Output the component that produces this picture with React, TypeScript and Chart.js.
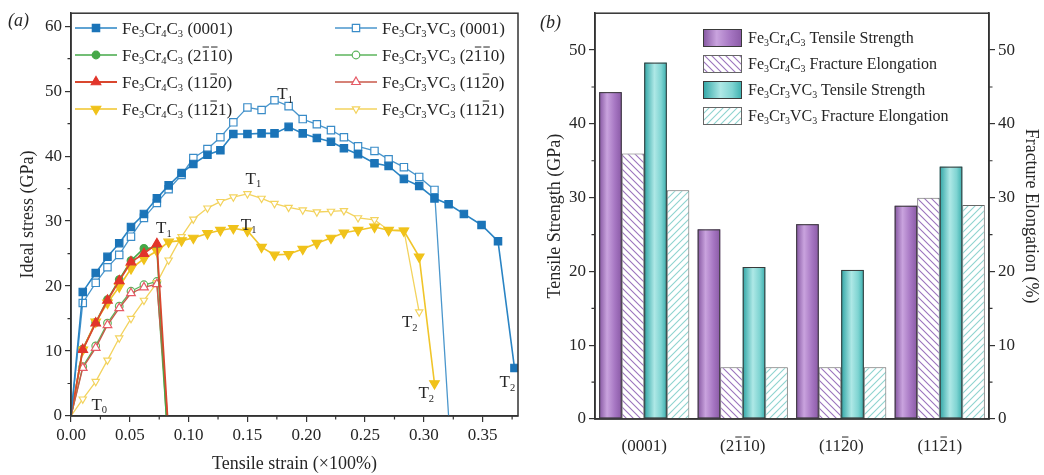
import React, { useEffect, useRef } from 'react';
import { Chart, registerables } from 'chart.js';

Chart.register(...registerables);

const FAMILY = '"Liberation Serif", "Times New Roman", Times, serif';
const INK = '#262626';
const AXIS = '#333333';

// ---------------- Panel (a): ideal stress vs tensile strain ----------------
const STRAIN = [0, 0.010, 0.021, 0.031, 0.041, 0.051, 0.062, 0.073, 0.083, 0.094, 0.104, 0.116, 0.127, 0.138, 0.150, 0.162, 0.173, 0.185, 0.197, 0.209, 0.221, 0.232, 0.244, 0.258, 0.270, 0.283, 0.296, 0.309, 0.321, 0.334, 0.349, 0.363, 0.377];

const CR_0001 = [0, 19.1, 22.0, 24.5, 26.6, 29.1, 31.1, 33.5, 35.5, 37.4, 38.8, 40.2, 40.9, 43.4, 43.4, 43.5, 43.5, 44.5, 43.5, 42.8, 42.2, 41.2, 40.3, 38.9, 38.5, 36.5, 35.4, 33.5, 32.6, 31.1, 29.4, 26.9, 7.4];
const VC_0001 = [0, 17.4, 20.5, 22.9, 24.8, 27.6, 30.5, 32.8, 34.9, 37.1, 39.7, 41.1, 42.9, 45.2, 47.5, 47.1, 48.6, 47.7, 45.7, 44.9, 44.0, 42.9, 41.5, 40.8, 39.5, 38.3, 36.8, 34.8, 0];
const CR_2110 = [0, 10.3, 14.4, 17.9, 21.0, 23.9, 25.8, 25.9];
const CR_2110_END = [0.081, 0];
const CR_1120 = [0, 10.2, 14.3, 17.8, 20.8, 23.7, 25.0, 26.5];
const CR_1120_END = [0.082, 0];
const CR_1121 = [0, 10.2, 14.5, 17.4, 19.9, 22.7, 24.2, 25.4, 26.8, 27.0, 27.4, 28.1, 28.6, 28.9, 28.5, 26.0, 24.8, 24.9, 25.7, 26.6, 27.4, 28.2, 28.6, 29.1, 28.6, 28.5, 24.5, 5.0];
const VC_2110 = [0, 7.6, 10.8, 14.3, 16.9, 19.2, 20.2, 20.7];
const VC_2110_END = [0.081, 0];
const VC_1120 = [0, 7.4, 10.5, 14.0, 16.6, 18.9, 19.8, 20.3];
const VC_1120_END = [0.082, 0];
const VC_1121 = [0, 2.6, 5.3, 8.6, 12.0, 15.0, 17.8, 20.5, 24.0, 27.6, 30.3, 32.0, 33.0, 33.7, 34.2, 33.5, 32.7, 32.1, 31.7, 31.4, 31.5, 31.6, 30.5, 30.2, 28.6, 28.6, 16.0];

// T markers: [subscript, strain, stress]
const T_MARKS: [string, number, number][] = [
  ['0', 0.024, 1.8],
  ['1', 0.079, 29.0],
  ['1', 0.182, 49.6],
  ['1', 0.155, 36.6],
  ['1', 0.151, 29.5],
  ['2', 0.288, 14.5],
  ['2', 0.302, 3.6],
  ['2', 0.371, 5.3],
];

// ---------------- Panel (b): tensile strength / fracture elongation ----------------
const PLANES = ['(0001)', '(2~1~10)', '(11~20)', '(11~21)'];
const CR_TS = [44.3, 25.7, 26.4, 28.9];
const CR_FE = [36, 7, 7, 30];
const VC_TS = [48.3, 20.6, 20.2, 34.2];
const VC_FE = [31, 7, 7, 29];

// ---------------- rich text helpers ----------------
type Seg = { t: string; kind: 'n' | 'sub' | 'bar' };
function segs(s: string): Seg[] {
  const out: Seg[] = [];
  let buf = '';
  for (let i = 0; i < s.length; i++) {
    const c = s[i];
    if ((c === '_' || c === '~') && i + 1 < s.length) {
      if (buf) { out.push({ t: buf, kind: 'n' }); buf = ''; }
      out.push({ t: s[i + 1], kind: c === '_' ? 'sub' : 'bar' });
      i++;
    } else buf += c;
  }
  if (buf) out.push({ t: buf, kind: 'n' });
  return out;
}
function fontStr(size: number, italic = false) {
  return `${italic ? 'italic ' : ''}${size}px ${FAMILY}`;
}
function richWidth(ctx: CanvasRenderingContext2D, s: string, size: number, italic = false) {
  let w = 0;
  for (const g of segs(s)) {
    ctx.font = fontStr(g.kind === 'sub' ? size * 0.62 : size, italic);
    w += ctx.measureText(g.t).width;
  }
  return w;
}
function drawRich(ctx: CanvasRenderingContext2D, s: string, x: number, yc: number, size: number, align: 'left' | 'center' | 'right' = 'left', color = INK, italic = false) {
  const w = richWidth(ctx, s, size, italic);
  let cx = align === 'left' ? x : align === 'center' ? x - w / 2 : x - w;
  const base = yc + size * 0.33;
  ctx.fillStyle = color;
  ctx.strokeStyle = color;
  ctx.textAlign = 'left';
  ctx.textBaseline = 'alphabetic';
  for (const g of segs(s)) {
    const fs = g.kind === 'sub' ? size * 0.62 : size;
    ctx.font = fontStr(fs, italic);
    const gw = ctx.measureText(g.t).width;
    const by = g.kind === 'sub' ? base + size * 0.2 : base;
    ctx.fillText(g.t, cx, by);
    if (g.kind === 'bar') {
      ctx.lineWidth = Math.max(1, size * 0.06);
      ctx.beginPath();
      const ly = base - size * 0.8;
      ctx.moveTo(cx + gw * 0.12, ly);
      ctx.lineTo(cx + gw * 0.88, ly);
      ctx.stroke();
    }
    cx += gw;
  }
}
function drawMarker(ctx: CanvasRenderingContext2D, shape: string, x: number, y: number, r: number, fill: string, stroke: string) {
  ctx.beginPath();
  if (shape === 'rect') {
    const h = r * Math.SQRT1_2;
    ctx.rect(x - h, y - h, 2 * h, 2 * h);
  } else if (shape === 'circle') {
    ctx.arc(x, y, r, 0, Math.PI * 2);
  } else {
    const rot = shape === 'triDown' ? Math.PI : 0;
    for (let k = 0; k < 3; k++) {
      const a = rot + (k * 2 * Math.PI) / 3;
      const px = x + Math.sin(a) * r;
      const py = y - Math.cos(a) * r;
      if (k) ctx.lineTo(px, py); else ctx.moveTo(px, py);
    }
    ctx.closePath();
  }
  ctx.fillStyle = fill;
  ctx.fill();
  ctx.lineWidth = 1.2;
  ctx.strokeStyle = stroke;
  ctx.stroke();
}

// ---------------- series styling ----------------
type SeriesA = { label: string; values: number[]; end: number[] | null; color: string; line: string; shape: string; r: number; open: boolean; lw: number };
const S_CR_0001: SeriesA = { label: 'Fe_3Cr_4C_3 (0001)', values: CR_0001, end: null, color: '#1b74b8', line: '#2a84c4', shape: 'rect', r: 5.2, open: false, lw: 1.6 };
const S_CR_2110: SeriesA = { label: 'Fe_3Cr_4C_3 (2~1~10)', values: CR_2110, end: CR_2110_END, color: '#45a848', line: '#45a848', shape: 'circle', r: 3.8, open: false, lw: 1.6 };
const S_CR_1120: SeriesA = { label: 'Fe_3Cr_4C_3 (11~20)', values: CR_1120, end: CR_1120_END, color: '#e2352b', line: '#d9472e', shape: 'triangle', r: 5.5, open: false, lw: 1.8 };
const S_CR_1121: SeriesA = { label: 'Fe_3Cr_4C_3 (11~21)', values: CR_1121, end: null, color: '#f0c21a', line: '#f0c52a', shape: 'triDown', r: 5.5, open: false, lw: 1.6 };
const S_VC_0001: SeriesA = { label: 'Fe_3Cr_3VC_3 (0001)', values: VC_0001, end: null, color: '#3a8cc8', line: '#4a96cc', shape: 'rect', r: 5.2, open: true, lw: 1.3 };
const S_VC_2110: SeriesA = { label: 'Fe_3Cr_3VC_3 (2~1~10)', values: VC_2110, end: VC_2110_END, color: '#5cb45c', line: '#5cb45c', shape: 'circle', r: 3.8, open: true, lw: 1.3 };
const S_VC_1120: SeriesA = { label: 'Fe_3Cr_3VC_3 (11~20)', values: VC_1120, end: VC_1120_END, color: '#e65a66', line: '#c8584a', shape: 'triangle', r: 5.0, open: true, lw: 1.4 };
const S_VC_1121: SeriesA = { label: 'Fe_3Cr_3VC_3 (11~21)', values: VC_1121, end: null, color: '#f3d35e', line: '#f3d35e', shape: 'triDown', r: 4.2, open: true, lw: 1.3 };

const DRAW_ORDER = [S_CR_0001, S_CR_1120, S_CR_1121, S_CR_2110, S_VC_0001, S_VC_1120, S_VC_1121, S_VC_2110];
const LEGEND_COL1 = [S_CR_0001, S_CR_2110, S_CR_1120, S_CR_1121];
const LEGEND_COL2 = [S_VC_0001, S_VC_2110, S_VC_1120, S_VC_1121];

function pts(values: number[], end: number[] | null) {
  const p = values.map((y, i) => ({ x: STRAIN[i], y }));
  if (end) p.push({ x: end[0], y: end[1] });
  return p;
}

const tickFont = { family: FAMILY, size: 17 };

const panelA = {
  id: 'panelA',
  afterDraw(chart: any) {
    const { ctx, chartArea: ca, scales } = chart;
    const xs = scales.x;
    const ys = scales.y;
    ctx.save();
    // frame
    ctx.strokeStyle = AXIS;
    ctx.lineWidth = 1.5;
    ctx.strokeRect(ca.left, ca.top, ca.right - ca.left, ca.bottom - ca.top);
    // minor ticks
    ctx.lineWidth = 1.2;
    ctx.beginPath();
    for (let v = 0.025; v < 0.38; v += 0.05) {
      const px = xs.getPixelForValue(v);
      ctx.moveTo(px, ca.bottom);
      ctx.lineTo(px, ca.bottom + 3.5);
    }
    for (let v = 5; v < 62; v += 10) {
      const py = ys.getPixelForValue(v);
      ctx.moveTo(ca.left, py);
      ctx.lineTo(ca.left - 3.5, py);
    }
    ctx.stroke();
    // legend
    const rows = [28, 55, 82, 109];
    const cols: [SeriesA[], number][] = [[LEGEND_COL1, ca.left + 4], [LEGEND_COL2, ca.left + 264]];
    cols.forEach(([list, x0]) => {
      list.forEach((s, i) => {
        const y = rows[i];
        ctx.strokeStyle = s.line;
        ctx.lineWidth = s.lw;
        ctx.beginPath();
        ctx.moveTo(x0, y);
        ctx.lineTo(x0 + 42, y);
        ctx.stroke();
        drawMarker(ctx, s.shape, x0 + 21, y, s.r, s.open ? '#ffffff' : s.color, s.color);
        drawRich(ctx, s.label, x0 + 47, y, 17, 'left');
      });
    });
    // T labels
    T_MARKS.forEach(([n, sx, sy]) => {
      drawRich(ctx, 'T_' + n, xs.getPixelForValue(sx), ys.getPixelForValue(sy), 17, 'center');
    });
    // axis titles
    drawRich(ctx, 'Tensile strain (\u00d7100%)', (ca.left + ca.right) / 2, 463, 18, 'center');
    ctx.save();
    ctx.translate(27, (ca.top + ca.bottom) / 2);
    ctx.rotate(-Math.PI / 2);
    drawRich(ctx, 'Ideal stress (GPa)', 0, 0, 18, 'center');
    ctx.restore();
    drawRich(ctx, '(a)', 8, 20, 18, 'left', INK, true);
    ctx.restore();
  },
};

const PURPLE_STOPS: [number, string][] = [[0, '#8455a0'], [0.35, '#c9a3de'], [0.7, '#a676c2'], [1, '#8a5aa6']];
const TEAL_STOPS: [number, string][] = [[0, '#2fa5a5'], [0.45, '#aee8e6'], [0.75, '#7fd4d2'], [1, '#3aafae']];

function grad(ctx: CanvasRenderingContext2D, l: number, w: number, stops: [number, string][]) {
  const g = ctx.createLinearGradient(l, 0, l + w, 0);
  stops.forEach(([o, c]) => g.addColorStop(o, c));
  return g;
}

function hatch(ctx: CanvasRenderingContext2D, color: string, dir: 'back' | 'fwd') {
  const size = 7;
  const c = document.createElement('canvas');
  c.width = size;
  c.height = size;
  const g = c.getContext('2d')!;
  g.fillStyle = '#ffffff';
  g.fillRect(0, 0, size, size);
  g.strokeStyle = color;
  g.lineWidth = 1.1;
  g.beginPath();
  if (dir === 'back') {
    g.moveTo(-1, -1); g.lineTo(size + 1, size + 1);
    g.moveTo(-1, size - 1); g.lineTo(1, size + 1);
    g.moveTo(size - 1, -1); g.lineTo(size + 1, 1);
  } else {
    g.moveTo(-1, size + 1); g.lineTo(size + 1, -1);
    g.moveTo(-1, 1); g.lineTo(1, -1);
    g.moveTo(size - 1, size + 1); g.lineTo(size + 1, size - 1);
  }
  g.stroke();
  return ctx.createPattern(c, 'repeat')!;
}

const LEGEND_B = ['Fe_3Cr_4C_3 Tensile Strength', 'Fe_3Cr_4C_3 Fracture Elongation', 'Fe_3Cr_3VC_3 Tensile Strength', 'Fe_3Cr_3VC_3 Fracture Elongation'];

function makePanelB(patterns: any[]) {
  return {
    id: 'panelB',
    afterDatasetsDraw(chart: any) {
      const ctx = chart.ctx;
      ctx.save();
      [0, 2].forEach((di) => {
        const meta = chart.getDatasetMeta(di);
        const stops = di === 0 ? PURPLE_STOPS : TEAL_STOPS;
        meta.data.forEach((el: any) => {
          const p = el.getProps(['x', 'y', 'base', 'width'], true);
          const l = p.x - p.width / 2;
          ctx.fillStyle = grad(ctx, l, p.width, stops);
          ctx.fillRect(l, p.y, p.width, p.base - p.y);
          ctx.strokeStyle = '#3a3a3a';
          ctx.lineWidth = 1;
          ctx.strokeRect(l + 0.5, p.y + 0.5, p.width - 1, p.base - p.y - 1);
        });
      });
      ctx.restore();
    },
    afterDraw(chart: any) {
      const { ctx, chartArea: ca, scales } = chart;
      const ys = scales.y;
      const xs = scales.x;
      ctx.save();
      ctx.strokeStyle = AXIS;
      ctx.lineWidth = 1.5;
      ctx.strokeRect(ca.left, ca.top, ca.right - ca.left, ca.bottom - ca.top);
      ctx.lineWidth = 1.2;
      ctx.beginPath();
      for (let v = 5; v < 55; v += 10) {
        const py = ys.getPixelForValue(v);
        ctx.moveTo(ca.left, py); ctx.lineTo(ca.left - 3.5, py);
        ctx.moveTo(ca.right, py); ctx.lineTo(ca.right + 3.5, py);
      }
      ctx.stroke();
      // legend
      const x0 = ca.left + 108;
      const rowsTop = [29, 55, 81, 107];
      LEGEND_B.forEach((label, i) => {
        const top = rowsTop[i];
        const w = 39;
        const h = 18;
        if (i === 0 || i === 2) ctx.fillStyle = grad(ctx, x0, w, i === 0 ? PURPLE_STOPS : TEAL_STOPS);
        else ctx.fillStyle = patterns[i === 1 ? 0 : 1];
        ctx.fillRect(x0, top, w, h);
        ctx.strokeStyle = i === 0 || i === 2 ? '#3a3a3a' : '#666666';
        ctx.lineWidth = 1;
        ctx.strokeRect(x0 + 0.5, top + 0.5, w - 1, h - 1);
        drawRich(ctx, label, x0 + 45, top + h / 2, 16, 'left');
      });
      // category labels
      PLANES.forEach((p, i) => {
        drawRich(ctx, p, xs.getPixelForValue(i), 445, 17, 'center');
      });
      // axis titles
      ctx.save();
      ctx.translate(24, (ca.top + ca.bottom) / 2);
      ctx.rotate(-Math.PI / 2);
      drawRich(ctx, 'Tensile Strength (GPa)', 0, 0, 18, 'center');
      ctx.restore();
      ctx.save();
      ctx.translate(502, (ca.top + ca.bottom) / 2);
      ctx.rotate(Math.PI / 2);
      drawRich(ctx, 'Fracture Elongation (%)', 0, 0, 18, 'center');
      ctx.restore();
      drawRich(ctx, '(b)', 10, 22, 18, 'left', INK, true);
      ctx.restore();
    },
  };
}

export default function App() {
  const aRef = useRef<HTMLCanvasElement>(null);
  const bRef = useRef<HTMLCanvasElement>(null);

  useEffect(() => {
    const a = new Chart(aRef.current!, {
      type: 'line',
      data: {
        datasets: DRAW_ORDER.map((s) => ({
          label: s.label,
          data: pts(s.values, s.end),
          borderColor: s.line,
          borderWidth: s.lw,
          backgroundColor: s.open ? '#ffffff' : s.color,
          pointBackgroundColor: s.open ? '#ffffff' : s.color,
          pointBorderColor: s.color,
          pointBorderWidth: 1.2,
          pointStyle: s.shape === 'triDown' ? 'triangle' : s.shape,
          pointRotation: s.shape === 'triDown' ? 180 : 0,
          pointRadius: (c: any) => (c.raw && c.raw.y === 0 ? 0 : s.r),
          tension: 0,
          fill: false,
        })) as any,
      },
      options: {
        animation: false,
        responsive: false,
        devicePixelRatio: 1,
        layout: { padding: { top: 13, right: 12, left: 0, bottom: 0 } },
        plugins: { legend: { display: false }, tooltip: { enabled: false } },
        scales: {
          x: {
            type: 'linear',
            min: 0,
            max: 0.38,
            ticks: { stepSize: 0.05, includeBounds: false, font: tickFont, color: INK, padding: 3, callback: (v: any) => Number(v).toFixed(2) },
            grid: { drawOnChartArea: false, drawTicks: true, tickLength: 6, color: AXIS, lineWidth: 1.2 },
            border: { color: AXIS, width: 1.5 },
            afterFit: (s: any) => { s.height = 59; },
          },
          y: {
            min: 0,
            max: 62,
            ticks: { stepSize: 10, includeBounds: false, font: tickFont, color: INK, padding: 3 },
            grid: { drawOnChartArea: false, drawTicks: true, tickLength: 6, color: AXIS, lineWidth: 1.2 },
            border: { color: AXIS, width: 1.5 },
            afterFit: (s: any) => { s.width = 71; },
          },
        },
      } as any,
      plugins: [panelA],
    });

    const bctx = bRef.current!.getContext('2d')!;
    const patterns = [hatch(bctx, '#9b74bd', 'back'), hatch(bctx, '#8fd3cf', 'fwd')];
    const b = new Chart(bRef.current!, {
      type: 'bar',
      data: {
        labels: PLANES,
        datasets: [
          { label: LEGEND_B[0], data: CR_TS, yAxisID: 'y', backgroundColor: '#b48ccc', borderColor: '#3a3a3a', borderWidth: 1 },
          { label: LEGEND_B[1], data: CR_FE, yAxisID: 'y1', backgroundColor: patterns[0], borderColor: '#666666', borderWidth: 1 },
          { label: LEGEND_B[2], data: VC_TS, yAxisID: 'y', backgroundColor: '#7fd4d2', borderColor: '#3a3a3a', borderWidth: 1 },
          { label: LEGEND_B[3], data: VC_FE, yAxisID: 'y1', backgroundColor: patterns[1], borderColor: '#666666', borderWidth: 1 },
        ],
      },
      options: {
        animation: false,
        responsive: false,
        devicePixelRatio: 1,
        layout: { padding: { top: 13, right: 0, left: 0, bottom: 0 } },
        datasets: { bar: { categoryPercentage: 0.915, barPercentage: 1.0 } },
        plugins: { legend: { display: false }, tooltip: { enabled: false } },
        scales: {
          x: {
            ticks: { display: false },
            grid: { display: false },
            border: { color: AXIS, width: 1.5 },
            afterFit: (s: any) => { s.height = 56; },
          },
          y: {
            position: 'left',
            min: 0,
            max: 55,
            ticks: { stepSize: 10, includeBounds: false, font: tickFont, color: INK, padding: 3 },
            grid: { drawOnChartArea: false, drawTicks: true, tickLength: 6, color: AXIS, lineWidth: 1.2 },
            border: { color: AXIS, width: 1.5 },
            afterFit: (s: any) => { s.width = 65; },
          },
          y1: {
            position: 'right',
            min: 0,
            max: 55,
            ticks: { stepSize: 10, includeBounds: false, font: tickFont, color: INK, padding: 3 },
            grid: { drawOnChartArea: false, drawTicks: true, tickLength: 6, color: AXIS, lineWidth: 1.2 },
            border: { color: AXIS, width: 1.5 },
            afterFit: (s: any) => { s.width = 55; },
          },
        },
      } as any,
      plugins: [makePanelB(patterns)],
    });

    return () => {
      a.destroy();
      b.destroy();
    };
  }, []);

  return (
    <div style={{ position: 'absolute', left: 0, top: 0, width: 1044, height: 475, background: '#ffffff' }}>
      <canvas ref={aRef} width={530} height={475} style={{ position: 'absolute', left: 0, top: 0, width: 530, height: 475 }} />
      <canvas ref={bRef} width={514} height={475} style={{ position: 'absolute', left: 530, top: 0, width: 514, height: 475 }} />
    </div>
  );
}
